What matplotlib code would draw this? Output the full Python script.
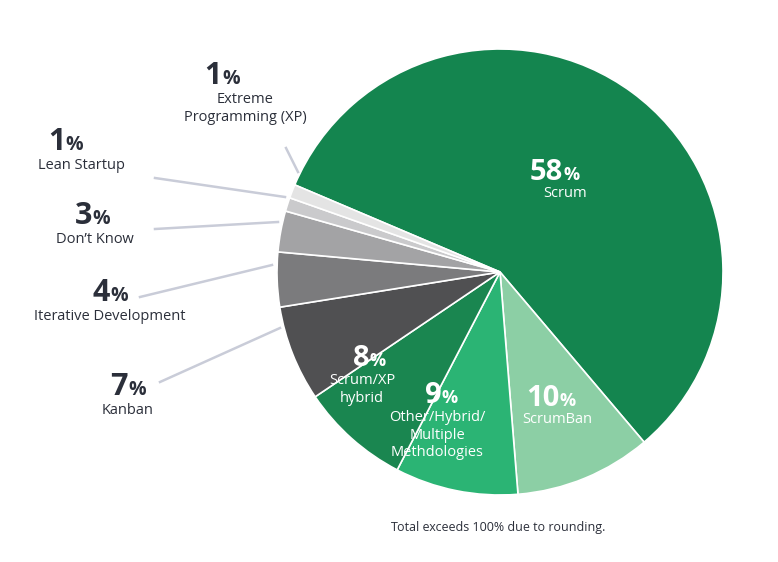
import matplotlib
matplotlib.use("Agg")
import matplotlib.pyplot as plt

categories = ["Scrum", "ScrumBan", "Other/Hybrid/\nMultiple\nMethdologies", "Scrum/XP\nhybrid", "Kanban",
              "Iterative Development", "Don\u2019t Know", "Lean Startup", "Extreme\nProgramming (XP)"]
values = [58, 10, 9, 8, 7, 4, 3, 1, 1]
colors = ["#14854f", "#8ccfa5", "#2bb474", "#1a8650", "#505052", "#7b7b7d", "#a3a3a5", "#cacacc", "#e4e4e4"]

W, H = 778, 562
fig = plt.figure(figsize=(W/100, H/100), dpi=100)
cx, cy, R = 500, 272, 223
ax = fig.add_axes([(cx-R)/W, (H-cy-R)/H, 2*R/W, 2*R/H])
ax.pie(values, colors=colors, startangle=157, counterclock=False,
       wedgeprops=dict(edgecolor="white", linewidth=1.2))
ax.set_xlim(-1, 1)
ax.set_ylim(-1, 1)
ax.set_aspect("equal")
ax.axis("off")

FONT = "Open Sans"
def fx(x): return x / W
def fy(y): return 1 - y / H

def pct(x, y, v, color, size=22, psize=14):
    fig.text(fx(x), fy(y), str(v), ha="right", va="baseline", fontsize=size, fontweight="bold",
             color=color, family=FONT, zorder=10)
    fig.text(fx(x), fy(y), "%", ha="left", va="baseline", fontsize=psize, fontweight="bold",
             color=color, family=FONT, zorder=10)

def lab(x, y, s, color, size=10.5):
    fig.text(fx(x), fy(y), s, ha="center", va="top", fontsize=size, color=color, family=FONT,
             linespacing=1.25, zorder=10)

dark = "#2b2f3a"
outside = [
    (8, 222, 84, 245, 92, ((286, 148), (298, 172))),
    (7, 65, 150, 82, 158, ((155, 178), (285, 197))),
    (6, 92, 224, 95, 232, ((155, 229), (278, 222))),
    (5, 110, 301, 110, 309, ((140, 297), (272, 265))),
    (4, 128, 395, 128, 403, ((160, 382), (280, 328))),
]
for i, nx, ny, lx, ly, ln in outside:
    pct(nx, ny, values[i], dark)
    lab(lx, ly, categories[i], dark)
    fig.add_artist(plt.Line2D([fx(ln[0][0]), fx(ln[1][0])], [fy(ln[0][1]), fy(ln[1][1])],
                              color="#c9ccd8", lw=1.8, transform=fig.transFigure))

inside = [(0, 563, 180, 565, 186), (1, 560, 406, 557, 412), (2, 442, 403, 437, 410), (3, 370, 366, 362, 373)]
for i, nx, ny, lx, ly in inside:
    pct(nx, ny, values[i], "white", size=21, psize=13)
    lab(lx, ly, categories[i], "white", size=10.5)

fig.text(fx(498), fy(528), "Total exceeds 100% due to rounding.", ha="center", va="center",
         fontsize=9, color=dark, family=FONT)
fig.savefig("out.png", dpi=100, facecolor="white")
